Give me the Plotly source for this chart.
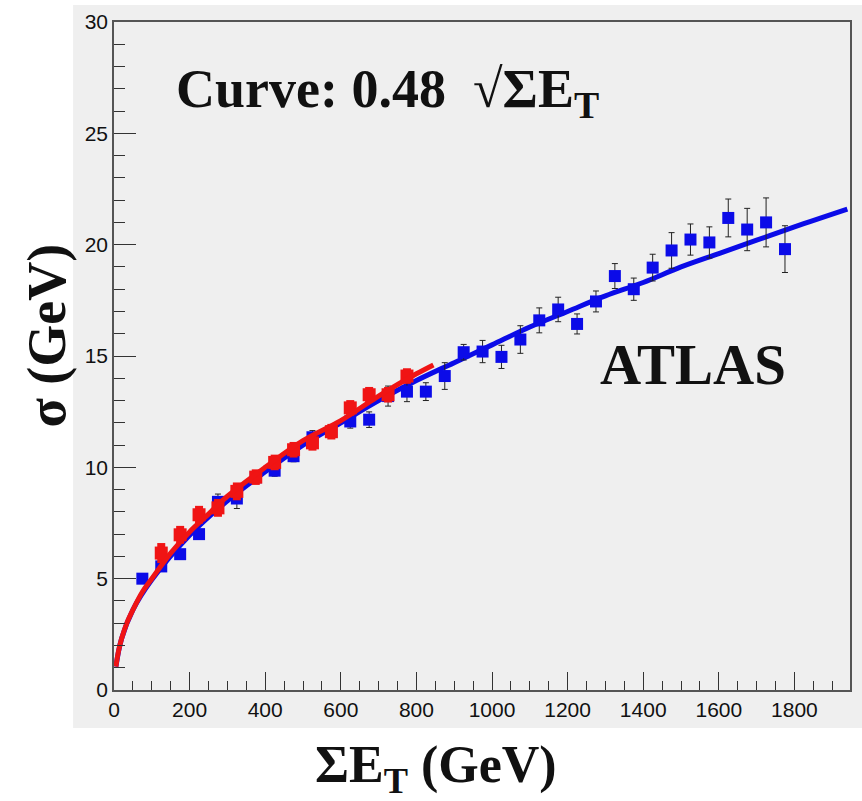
import plotly.graph_objects as go

# ---- data ----
blue_x = [75, 125, 175, 225, 275, 325, 375, 425, 475, 525, 575, 625, 675, 725, 775, 825,
          875, 925, 975, 1025, 1075, 1125, 1175, 1225, 1275, 1325, 1375, 1425, 1475, 1525,
          1575, 1625, 1675, 1725, 1775]
blue_y = [5.0, 5.55, 6.1, 7.0, 8.45, 8.6, 9.55, 9.85, 10.5, 11.35, 11.6, 12.06, 12.14, 13.2, 13.4, 13.4,
          14.1, 15.17, 15.2, 14.96, 15.74, 16.6, 17.09, 16.44, 17.45, 18.59, 18.0, 18.97, 19.74, 20.23,
          20.1, 21.2, 20.68, 21.0, 19.8]
blue_err = [0.2, 0.2, 0.2, 0.2, 0.35, 0.45, 0.25, 0.25, 0.25, 0.3, 0.3, 0.3, 0.35, 0.45, 0.45, 0.4,
            0.6, 0.35, 0.5, 0.52, 0.62, 0.56, 0.55, 0.45, 0.47, 0.56, 0.5, 0.6, 0.8, 0.7,
            0.7, 0.85, 0.95, 1.1, 1.05]

red_x = [125, 175, 225, 275, 325, 375, 425, 475, 525, 575, 625, 675, 725, 775]
red_y = [6.15, 6.97, 7.87, 8.18, 8.92, 9.56, 10.22, 10.79, 11.1, 11.6, 12.67, 13.26, 13.26, 14.1]
red_err = [0.45, 0.4, 0.4, 0.4, 0.4, 0.35, 0.35, 0.35, 0.35, 0.35, 0.35, 0.35, 0.35, 0.35]

# fitted curves
blue_curve_x = [5, 20, 50, 100, 200, 300, 400, 500, 600, 700, 800, 900, 1000, 1100, 1200,
                1300, 1400, 1500, 1600, 1700, 1800, 1940]
blue_curve_y = [1.05, 2.3, 3.6, 4.95, 6.95, 8.5, 9.8, 11.0, 12.0, 13.0, 13.9, 14.7, 15.5, 16.3, 17.0,
                17.7, 18.3, 19.0, 19.6, 20.2, 20.8, 21.6]
red_curve_x = [5, 12, 20, 35, 50, 75, 100, 150, 200, 250, 300, 400, 500, 600, 700, 800, 845]
red_curve_y = [1.05, 1.75, 2.3, 3.05, 3.6, 4.4, 5.0, 6.15, 7.1, 7.9, 8.7, 10.0, 11.2, 12.1, 13.2, 14.2, 14.6]

x_ticks = [0, 200, 400, 600, 800, 1000, 1200, 1400, 1600, 1800]
y_ticks = [0, 5, 10, 15, 20, 25, 30]

BLUE = "#0b0be8"
RED = "#f01414"
SERIF = "Liberation Serif, Times New Roman, serif"
SANS = "Liberation Sans, Arial, sans-serif"

fig = go.Figure()

fig.add_trace(go.Scatter(x=blue_curve_x, y=blue_curve_y, mode="lines",
                         line=dict(color=BLUE, width=5, shape="spline"), hoverinfo="skip"))
fig.add_trace(go.Scatter(x=blue_x, y=blue_y, mode="markers",
                         marker=dict(symbol="square", size=12, color=BLUE),
                         error_y=dict(type="data", array=blue_err, color="#222222",
                                      thickness=1, width=3)))
fig.add_trace(go.Scatter(x=red_x, y=red_y, mode="markers",
                         marker=dict(symbol="square", size=13, color=RED),
                         error_y=dict(type="data", array=red_err, color=RED,
                                      thickness=8, width=0)))
fig.add_trace(go.Scatter(x=red_curve_x, y=red_curve_y, mode="lines",
                         line=dict(color=RED, width=5, shape="spline"), hoverinfo="skip"))

# gray canvas area (ROOT canvas)
fig.add_shape(type="rect", xref="paper", yref="paper",
              x0=-0.0556, x1=1.02, y0=-0.0569, y1=1.0254,
              fillcolor="#efefef", line=dict(width=0), layer="below")

fig.add_annotation(x=160, y=26.85, xref="x", yref="y", xanchor="left", yanchor="middle",
                   text="Curve: 0.48  √ΣE<sub>T</sub>", showarrow=False,
                   font=dict(family=SERIF, size=54, color="#111111", weight="bold"))
fig.add_annotation(x=1531, y=14.6, xref="x", yref="y", xanchor="center", yanchor="middle",
                   text="ATLAS", showarrow=False,
                   font=dict(family=SERIF, size=57, color="#111111", weight="bold"))
# axis titles
fig.add_annotation(x=-0.0915, y=0.53, xref="paper", yref="paper", xanchor="center", yanchor="middle",
                   text="σ (GeV)", textangle=-90, showarrow=False,
                   font=dict(family=SERIF, size=54, color="#111111", weight="bold"))
fig.add_annotation(x=0.437, y=-0.118, xref="paper", yref="paper", xanchor="center", yanchor="middle",
                   text="ΣE<sub>T</sub> (GeV)", showarrow=False,
                   font=dict(family=SERIF, size=52, color="#111111", weight="bold"))

fig.update_layout(
    width=862, height=801,
    margin=dict(l=114, r=10, t=22, b=111),
    paper_bgcolor="white", plot_bgcolor="#f1f1f1",
    showlegend=False,
    xaxis=dict(range=[0, 1947], tickvals=x_ticks, ticktext=[str(v) for v in x_ticks],
               ticks="inside", ticklen=18, tickwidth=1, tickcolor="#333333",
               minor=dict(ticks="inside", ticklen=9, dtick=50, tick0=0, tickcolor="#333333", showgrid=False),
               showline=True, linecolor="#555555", linewidth=1.5, mirror=True,
               showgrid=False, zeroline=False,
               tickfont=dict(family=SANS, size=21, color="#111111")),
    yaxis=dict(range=[0, 30], tickvals=y_ticks, ticktext=[str(v) for v in y_ticks],
               ticks="inside", ticklen=22, tickwidth=1, tickcolor="#333333",
               minor=dict(ticks="inside", ticklen=11, dtick=1, tick0=0, tickcolor="#333333", showgrid=False),
               showline=True, linecolor="#555555", linewidth=1.5, mirror=True,
               showgrid=False, zeroline=False,
               tickfont=dict(family=SANS, size=21, color="#111111")),
)

fig.write_html("out.html")
